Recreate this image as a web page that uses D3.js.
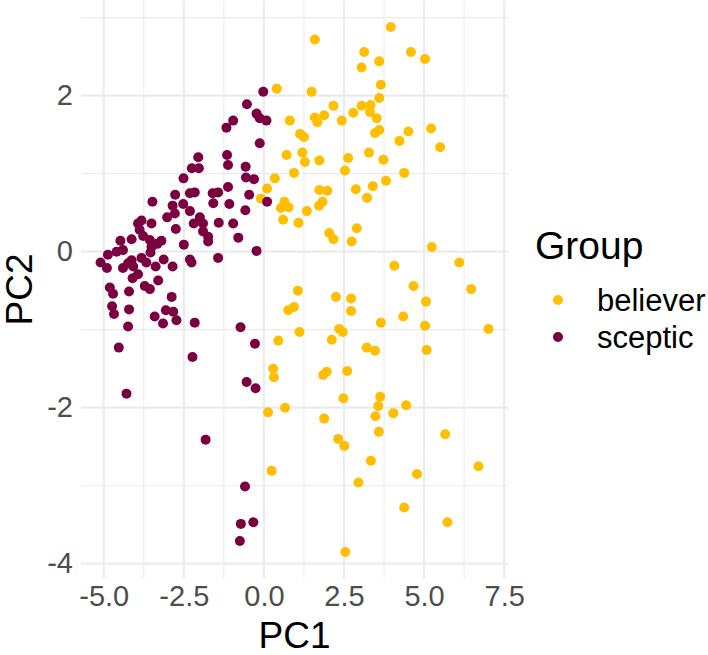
<!DOCTYPE html>
<html><head><meta charset="utf-8">
<script src="https://cdn.jsdelivr.net/npm/d3@7"></script>
<style>body{margin:0;background:#fff}svg{display:block}text{font-family:"Liberation Sans",Arial,sans-serif}</style>
</head><body>
<svg id="c" width="708" height="655"></svg>
<script>
const groups = ["believer", "sceptic"];
const groupColors = ["#FFBF00", "#7B0041"];
const xTicks = [-5, -2.5, 0, 2.5, 5, 7.5];
const xTickLabels = ["-5.0", "-2.5", "0.0", "2.5", "5.0", "7.5"];
const xMinor = [-3.75, -1.25, 1.25, 3.75, 6.25];
const yTicks = [-4, -2, 0, 2];
const yTickLabels = ["-4", "-2", "0", "2"];
const yMinor = [-3, -1, 1, 3];

const believerPC1 = [0.40,1.49,0.81,1.13,1.25,0.71,1.20,1.28,0.94,0.34,0.10,-0.09,0.64,0.53,0.77,3.96,1.59,3.13,4.59,3.60,3.05,3.65,3.60,2.17,3.05,3.33,3.31,2.79,1.59,1.88,1.67,2.43,3.52,3.47,3.60,4.51,4.23,1.73,2.63,3.28,3.73,2.53,4.38,3.81,3.40,2.87,3.22,1.73,1.98,1.83,1.72,1.34,5.03,5.22,5.50,0.60,1.08,2.04,2.17,2.90,2.74,4.07,4.67,1.06,2.25,2.72,2.72,4.35,3.65,0.76,0.94,1.11,2.35,2.46,2.12,3.21,3.47,1.85,1.96,2.60,0.45,0.29,0.31,5.24,6.10,6.47,5.06,5.03,7.01,5.08,0.13,0.66,0.24,2.48,3.63,3.57,4.44,1.88,3.48,4.04,3.59,2.32,2.51,3.34,4.78,2.95,4.38,2.54,5.66,6.70,5.73];
const believerPC2 = [2.09,2.05,1.68,1.51,1.47,1.24,1.27,1.15,1.01,0.94,0.81,0.68,0.64,0.56,0.57,2.88,2.72,2.56,2.56,2.44,2.36,2.14,1.97,1.87,1.87,1.88,1.79,1.78,1.72,1.75,1.66,1.68,1.71,1.52,1.56,1.54,1.42,1.17,1.20,1.27,1.18,1.04,1.01,0.91,0.84,0.80,0.69,0.79,0.78,0.64,0.59,0.52,2.47,1.58,1.34,0.41,0.37,0.24,0.16,0.30,0.13,-0.18,-0.44,-0.50,-0.58,-0.60,-0.76,-0.83,-0.91,-0.75,-0.71,-1.03,-0.99,-1.03,-1.13,-1.23,-1.27,-1.58,-1.54,-1.53,-1.14,-1.50,-1.61,0.06,-0.14,-0.48,-0.64,-0.95,-0.99,-1.26,-2.06,-2.00,-2.81,-1.88,-1.86,-1.98,-1.97,-2.14,-2.11,-2.07,-2.31,-2.40,-2.49,-2.68,-2.85,-2.96,-3.28,-3.85,-2.34,-2.75,-3.47];
const scepticPC1 = [-2.05,-2.25,-2.03,-2.51,-3.48,-2.77,-2.31,-2.16,-2.85,-2.52,-0.02,-0.53,-0.23,-0.13,0.08,-0.96,-1.17,-0.13,-1.15,-1.12,-0.57,-0.56,-0.31,-1.12,-1.60,-1.43,-0.46,0.10,-1.58,-1.08,-0.58,-2.31,-2.78,-3.02,-3.82,-3.93,-3.51,-3.88,-3.77,-2.75,-4.13,-4.48,-4.40,-4.60,-4.87,-3.56,-3.51,-3.33,-3.20,-3.54,-2.50,-2.31,-2.26,-5.10,-4.90,-4.13,-4.24,-4.40,-4.08,-3.82,-3.67,-3.13,-3.38,-2.85,-3.93,-4.10,-3.30,-3.72,-3.56,-4.81,-4.71,-4.21,-2.88,-4.74,-4.68,-4.21,-3.06,-2.83,-2.73,-3.41,-3.15,-2.16,-4.24,-4.53,-2.23,-4.29,-2.00,-2.19,-1.90,-1.90,-1.74,-1.74,-1.41,-0.96,-0.80,-0.23,-1.43,-0.73,-0.28,-0.54,-0.26,-1.82,-0.59,-0.72,-0.33,-0.75];
const scepticPC2 = [1.21,1.07,1.07,0.94,0.64,0.73,0.75,0.76,0.59,0.61,2.05,1.89,1.77,1.71,1.68,1.68,1.59,1.39,1.24,1.11,1.09,0.95,0.93,0.83,0.75,0.76,0.73,0.64,0.62,0.61,0.53,0.52,0.49,0.44,0.40,0.36,0.36,0.28,0.20,0.29,0.16,0.14,0.02,0.00,-0.04,0.15,0.06,0.10,0.14,-0.01,0.09,-0.10,-0.14,-0.14,-0.21,-0.11,-0.15,-0.21,-0.19,-0.08,-0.14,-0.10,-0.19,-0.19,-0.29,-0.34,-0.37,-0.44,-0.48,-0.46,-0.54,-0.51,-0.58,-0.70,-0.80,-0.74,-0.75,-0.77,-0.88,-0.83,-0.92,-0.91,-0.96,-1.23,-1.35,-1.82,0.44,0.36,0.36,0.26,0.19,0.13,0.37,0.36,0.18,0.01,-0.08,-0.97,-1.18,-1.67,-1.75,-2.41,-3.01,-3.49,-3.47,-3.71];

const svg = d3.select("#c");
const panel = {l: 81, r: 508, t: 0.5, b: 578.5};
const x = d3.scaleLinear().domain([-5.71, 7.62]).range([panel.l, panel.r]);
const y = d3.scaleLinear().domain([-4.19, 3.22]).range([panel.b, panel.t]);
const grid = "#EBEBEB";

const g = svg.append("g");
g.selectAll(".vmin").data(xMinor).join("line").attr("x1", d => x(d)).attr("x2", d => x(d))
  .attr("y1", panel.t).attr("y2", panel.b).attr("stroke", grid).attr("stroke-width", 1.1);
g.selectAll(".hmin").data(yMinor).join("line").attr("y1", d => y(d)).attr("y2", d => y(d))
  .attr("x1", panel.l).attr("x2", panel.r).attr("stroke", grid).attr("stroke-width", 1.1);
g.selectAll(".vmaj").data(xTicks).join("line").attr("x1", d => x(d)).attr("x2", d => x(d))
  .attr("y1", panel.t).attr("y2", panel.b).attr("stroke", grid).attr("stroke-width", 2.1);
g.selectAll(".hmaj").data(yTicks).join("line").attr("y1", d => y(d)).attr("y2", d => y(d))
  .attr("x1", panel.l).attr("x2", panel.r).attr("stroke", grid).attr("stroke-width", 2.1);

const color = d3.scaleOrdinal().domain(groups).range(groupColors);
const pts = [];
believerPC1.forEach((v, i) => pts.push({g: "believer", x: v, y: believerPC2[i]}));
scepticPC1.forEach((v, i) => pts.push({g: "sceptic", x: v, y: scepticPC2[i]}));
svg.append("g").selectAll("circle").data(pts).join("circle")
  .attr("cx", d => x(d.x)).attr("cy", d => y(d.y)).attr("r", 5).attr("fill", d => color(d.g));

const xa = svg.append("g").attr("transform", `translate(0,${panel.b})`)
  .call(d3.axisBottom(x).tickValues(xTicks).tickFormat((d, i) => xTickLabels[i]).tickSize(0).tickPadding(7));
const ya = svg.append("g").attr("transform", `translate(${panel.l},0)`)
  .call(d3.axisLeft(y).tickValues(yTicks).tickFormat((d, i) => yTickLabels[i]).tickSize(0).tickPadding(8));
[xa, ya].forEach(a => {
  a.select(".domain").remove();
  a.selectAll("text").attr("fill", "#4D4D4D").style("font-size", "29px").style("font-family", "'Liberation Sans',Arial,sans-serif");
});

svg.append("text").attr("x", (panel.l + panel.r) / 2).attr("y", 648).attr("text-anchor", "middle")
  .style("font-size", "37px").attr("fill", "#000").text("PC1");
svg.append("text").attr("transform", `translate(32,${(panel.t + panel.b) / 2}) rotate(-90)`).attr("text-anchor", "middle")
  .style("font-size", "37px").attr("fill", "#000").text("PC2");

const lg = svg.append("g");
lg.append("text").attr("x", 535).attr("y", 259).style("font-size", "39px").attr("fill", "#000").text("Group");
groups.forEach((gr, i) => {
  const cy = 300 + i * 37;
  lg.append("circle").attr("cx", 558).attr("cy", cy).attr("r", 5).attr("fill", color(gr));
  lg.append("text").attr("x", 597).attr("y", cy).attr("dy", "0.36em").style("font-size", "31px").attr("fill", "#000").text(gr);
});
</script>
</body></html>
